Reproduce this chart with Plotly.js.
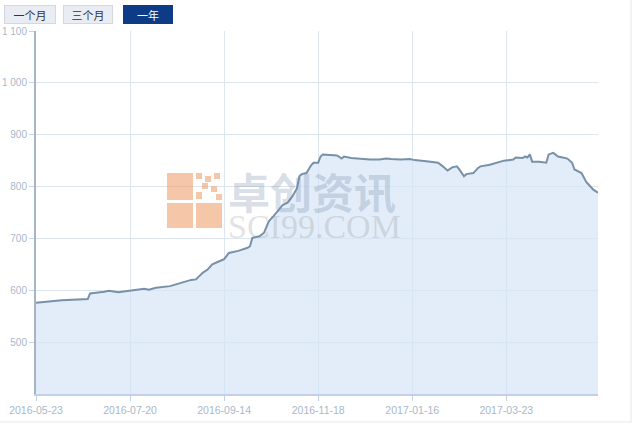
<!DOCTYPE html>
<html>
<head>
<meta charset="utf-8">
<script src="https://cdn.plot.ly/plotly-3.0.1.min.js"></script>
<style>html,body{margin:0;padding:0;background:#fff;}#chart{width:640px;height:425px;}</style>
</head>
<body>
<div id="chart"></div>
<script>
// trading-day index (position along the category axis) and price
var dayIndex = [0,6,11,22,23,29,31,35,40,46,48,51,57,60,64,66,68,71,73,75,77,80,82,86,90,91,92,95,97,99,101,103,105,107,109,111,112,113,115,117,118,120,121,122,128,130,131,134,138,142,146,149,151,155,159,161,166,171,173,175,177,179,180,182,183,186,188,189,193,196,199,203,204,207,208,209,210,211,214,217,218,220,222,224,226,228,229,232,234,235,237,239];
var prices =   [576,578,581,583,594,597,599,596,599,603,601,605,608,612,616,620,621,634,640,650,654,660,672,676,682,685,701,704,711,733,743,753,765,769,781,797,820,824,826,841,846,846,858,862,860,854,858,855,853,852,852,854,853,852,853,851,849,846,839,831,837,839,833,820,824,826,836,839,842,846,850,852,856,855,858,856,862,848,848,846,862,865,858,856,854,846,833,826,809,804,794,788];
var tickIndex = [0,40,80,120,160,200];
var tickLabels = ["2016-05-23","2016-07-20","2016-09-14","2016-11-18","2017-01-16","2017-03-23"];
var yTicks = [500,600,700,800,900,1000,1100];
var buttonLabels = ["一个月","三个月","一年"];

var W = 640, H = 425, L = 36, R = 598, T = 31, B = 394;
function px(x){ return (x - L) / (R - L); }
function py(y){ return (B - y) / (B - T); }

var trace = {
  x: dayIndex, y: prices, type: 'scatter', mode: 'lines',
  line: {color: '#7890a8', width: 2},
  fill: 'tozeroy', fillcolor: 'rgba(214,230,247,0.7)',
  hoverinfo: 'skip'
};

var annotations = [];
var shapes = [];
var btnCenters = [30, 88, 148], btnWidths = [48, 46, 46];
buttonLabels.forEach(function(t, k){
  var active = (k === 2);
  annotations.push({
    xref: 'paper', yref: 'paper', x: px(btnCenters[k]), y: py(14),
    xanchor: 'center', yanchor: 'middle', showarrow: false,
    text: t, width: btnWidths[k], height: 15,
    font: {family: 'Noto Sans CJK SC, sans-serif', size: 11, color: active ? '#ffffff' : '#333333'},
    bgcolor: active ? '#0e3b86' : '#e9edf3',
    bordercolor: active ? '#0e3b86' : '#d3d9e2', borderwidth: 1, borderpad: 1
  });
});

// watermark
var wmColor = 'rgba(240,160,110,0.6)';
[[167,173,193,200],[167,203,193,228],[196,203,222,228],[196,173,202,179],[205,176,211,182],[214,173,220,179],[202,183,208,189],[211,186,217,192],[196,192,202,199],[216,194,222,200]].forEach(function(r){
  shapes.push({type:'rect', xref:'paper', yref:'paper', x0:px(r[0]), x1:px(r[2]), y0:py(r[3]), y1:py(r[1]), fillcolor: wmColor, line:{width:0}, layer:'above'});
});
annotations.push({xref:'paper', yref:'paper', x:px(226), y:py(202), xanchor:'left', yanchor:'middle', align:'left', showarrow:false,
  text:'<span style="font-size:42px;font-weight:bold;fill:rgba(120,140,170,0.55);font-family:Noto Sans CJK SC">卓创资讯</span><br><span style="font-size:34px;fill:rgba(140,140,140,0.45);font-family:Liberation Serif">SCI99.COM</span>',
  font:{family:'Noto Sans CJK SC, sans-serif', size:22, color:'rgba(120,140,170,0.55)'}});

// outer frame lines
shapes.push({type:'line', xref:'paper', yref:'paper', x0:px(0), x1:px(632), y0:py(422), y1:py(422), line:{color:'#e3e7ec', width:1}});
shapes.push({type:'line', xref:'paper', yref:'paper', x0:px(631), x1:px(631), y0:py(0), y1:py(422), line:{color:'#e3e7ec', width:1}});

var layout = {
  width: W, height: H,
  margin: {l: L, r: W - R, t: T, b: H - B, pad: 0},
  paper_bgcolor: '#ffffff', plot_bgcolor: '#ffffff',
  showlegend: false,
  separators: '. ',
  font: {family: 'Liberation Sans, Arial, sans-serif', size: 10, color: '#a9b8cb'},
  xaxis: {
    type: 'linear', range: [0, 239], tickmode: 'array', tickvals: tickIndex, ticktext: tickLabels,
    showgrid: true, gridcolor: '#dde5ee', gridwidth: 1,
    showline: true, linecolor: '#c3d1e6', linewidth: 2,
    ticks: 'outside', ticklen: 5, tickcolor: '#c3d1e6',
    zeroline: false, fixedrange: true,
    tickfont: {size: 10.5, color: '#a9b8cb'}
  },
  yaxis: {
    range: [400, 1100], tickmode: 'array', tickvals: yTicks,
    separatethousands: true,
    showgrid: true, gridcolor: '#dde5ee', gridwidth: 1,
    showline: true, linecolor: '#a5b4c6', linewidth: 2,
    ticks: 'outside', ticklen: 5, tickcolor: '#c9d4e2',
    zeroline: false, fixedrange: true,
    tickfont: {size: 10, color: '#a9b8cb'}
  },
  annotations: annotations,
  shapes: shapes
};

Plotly.newPlot('chart', [trace], layout, {displayModeBar: false, staticPlot: true});
</script>
</body>
</html>
